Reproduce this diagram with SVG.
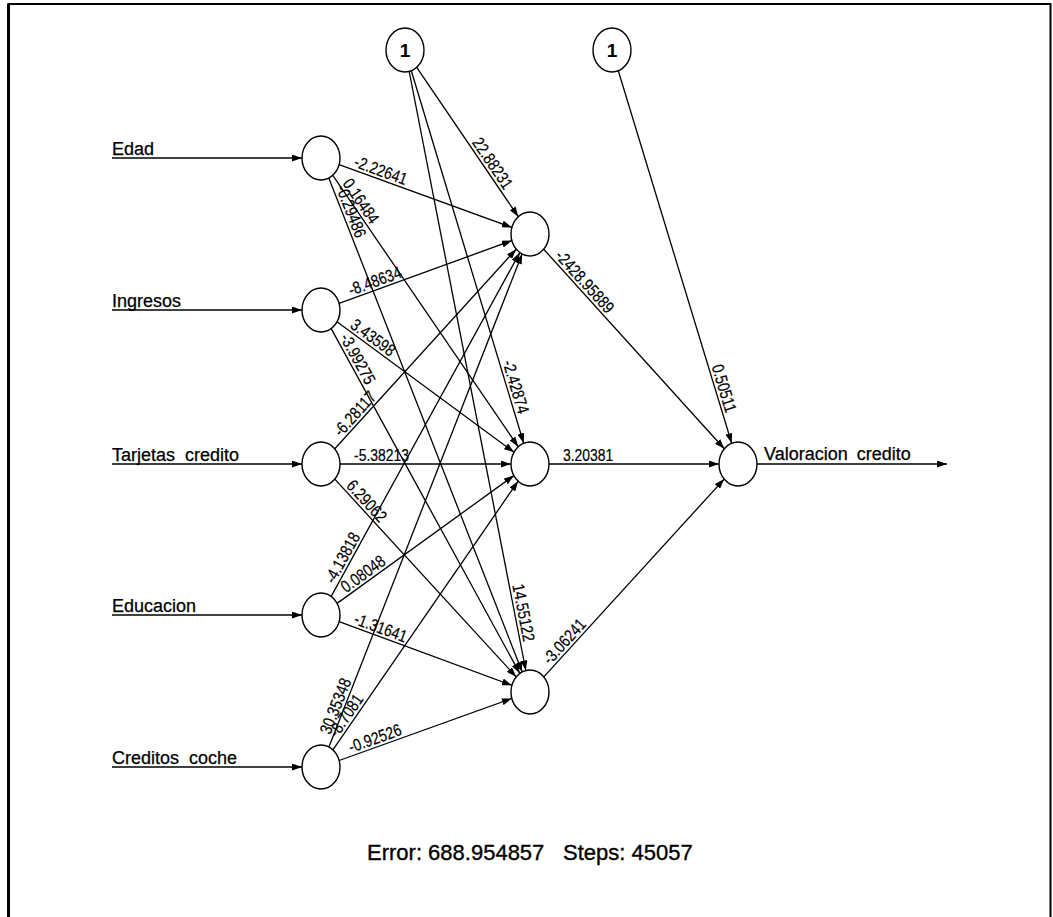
<svg xmlns="http://www.w3.org/2000/svg" width="1053" height="917" viewBox="0 0 1053 917">
  <style>
    text { font-family: "Liberation Sans", Arial, sans-serif; fill: #000; }
    .node { fill: #fff; stroke: #000; stroke-width: 1.4; }
    .edge { stroke: #000; stroke-width: 1.3; fill: none; marker-end: url(#arrow); }
    .name { font-size: 18px; stroke: #000; stroke-width: 0.25; }
    .one { font-size: 19px; text-anchor: middle; font-weight: bold; }
    .w { font-size: 17px; stroke: #000; stroke-width: 0.2; }
    .wb { font-size: 17px; text-anchor: end; stroke: #000; stroke-width: 0.2; }
    .info { font-size: 22px; stroke: #000; stroke-width: 0.35; }
  </style>
  <defs>
    <marker id="arrow" markerUnits="userSpaceOnUse" markerWidth="10" markerHeight="7" refX="10" refY="3.5" orient="auto">
      <path d="M0,0 L10,3.5 L0,7 z" fill="#000"/>
    </marker>
  </defs>

  <rect x="0" y="0" width="1053" height="917" fill="#fff"/>
  <!-- frame -->
  <rect x="8.5" y="4" width="1042" height="1000" fill="none" stroke="#000" stroke-width="2"/>
  <line x1="8.5" y1="4" x2="8.5" y2="917" stroke="#000" stroke-width="3"/>

  <!-- connectors -->
  <g id="connectors">
    <!-- input arrows -->
    <line class="edge" x1="112" y1="158" x2="302" y2="158"/>
    <line class="edge" x1="112" y1="310" x2="302" y2="310"/>
    <line class="edge" x1="112" y1="464" x2="302" y2="464"/>
    <line class="edge" x1="112" y1="615" x2="302" y2="615"/>
    <line class="edge" x1="112" y1="767" x2="302" y2="767"/>
    <!-- Edad -->
    <line class="edge" x1="339.1" y1="164.6" x2="511.9" y2="227.4"/>
    <line class="edge" x1="332.8" y1="175.3" x2="518.2" y2="446.7"/>
    <line class="edge" x1="328.8" y1="178.0" x2="522.2" y2="672.0"/>
    <!-- Ingresos -->
    <line class="edge" x1="339.1" y1="303.4" x2="511.9" y2="240.6"/>
    <line class="edge" x1="337.0" y1="321.8" x2="514.0" y2="452.2"/>
    <line class="edge" x1="331.2" y1="328.6" x2="519.8" y2="673.4"/>
    <!-- Tarjetas credito -->
    <line class="edge" x1="334.8" y1="448.8" x2="516.2" y2="249.2"/>
    <line class="edge" x1="340" y1="464" x2="511" y2="464"/>
    <line class="edge" x1="334.8" y1="479.1" x2="516.2" y2="676.9"/>
    <!-- Educacion -->
    <line class="edge" x1="331.2" y1="596.4" x2="519.8" y2="252.6"/>
    <line class="edge" x1="337.1" y1="603.4" x2="513.9" y2="475.6"/>
    <line class="edge" x1="339.1" y1="621.7" x2="511.9" y2="685.3"/>
    <!-- Creditos coche -->
    <line class="edge" x1="328.9" y1="747.0" x2="522.1" y2="254.0"/>
    <line class="edge" x1="332.9" y1="749.8" x2="518.1" y2="481.2"/>
    <line class="edge" x1="339.2" y1="760.5" x2="511.8" y2="698.5"/>
    <!-- hidden bias -->
    <line class="edge" x1="416.7" y1="67.3" x2="518.3" y2="216.7"/>
    <line class="edge" x1="411.3" y1="70.8" x2="523.7" y2="443.2"/>
    <line class="edge" x1="409.2" y1="71.5" x2="525.8" y2="670.5"/>
    <!-- hidden to output -->
    <line class="edge" x1="543.7" y1="249.2" x2="724.3" y2="448.8"/>
    <line class="edge" x1="549" y1="464" x2="719" y2="464"/>
    <line class="edge" x1="543.8" y1="676.9" x2="724.2" y2="479.1"/>
    <!-- output bias -->
    <line class="edge" x1="618.3" y1="70.8" x2="731.7" y2="443.3"/>
    <!-- output arrow -->
    <line class="edge" x1="757" y1="464" x2="947" y2="464"/>
  </g>

  <!-- weights -->
  <g id="weights">
    <text class="w" transform="translate(321 158) rotate(19.98) translate(33 -3) scale(.82 1)">-2.22641</text>
    <text class="w" transform="translate(321 158) rotate(55.67) translate(33 -3) scale(.82 1)">0.16484</text>
    <text class="w" transform="translate(321 158) rotate(68.63) translate(33 -3) scale(.82 1)">-0.29486</text>
    <text class="w" transform="translate(321 310) rotate(-19.98) translate(33 -3) scale(.82 1)">-8.48634</text>
    <text class="w" transform="translate(321 310) rotate(36.38) translate(33 -3) scale(.82 1)">3.43598</text>
    <text class="w" transform="translate(321 310) rotate(61.32) translate(33 -3) scale(.82 1)">-3.99275</text>
    <text class="w" transform="translate(321 464) rotate(-47.74) translate(33 -3) scale(.82 1)">-6.28117</text>
    <text class="w" transform="translate(321 464) translate(33 -3) scale(.82 1)">-5.38213</text>
    <text class="w" transform="translate(321 464) rotate(47.51) translate(33 -3) scale(.82 1)">6.29062</text>
    <text class="w" transform="translate(321 615) rotate(-61.25) translate(33 -3) scale(.82 1)">-4.13818</text>
    <text class="w" transform="translate(321 615) rotate(-35.85) translate(33 -3) scale(.82 1)">0.08048</text>
    <text class="w" transform="translate(321 615) rotate(20.22) translate(33 -3) scale(.82 1)">-1.31641</text>
    <text class="w" transform="translate(321 767) rotate(-68.59) translate(33 -3) scale(.82 1)">30.35348</text>
    <text class="w" transform="translate(321 767) rotate(-55.41) translate(33 -3) scale(.82 1)">-8.7081</text>
    <text class="w" transform="translate(321 767) rotate(-19.74) translate(33 -3) scale(.82 1)">-0.92526</text>
    <text class="wb" transform="translate(405 50) rotate(55.81) translate(172 -3) scale(.82 1)">22.88231</text>
    <text class="wb" transform="translate(405 50) rotate(73.2) translate(382 -3) scale(.82 1)">-2.42874</text>
    <text class="wb" transform="translate(405 50) rotate(78.98) translate(604 -3) scale(.82 1)">14.55122</text>
    <text class="w" transform="translate(530 234) rotate(47.88) translate(33 -3) scale(.82 1)">-2428.95889</text>
    <text class="w" transform="translate(530 464) translate(33 -3) scale(.82 1)">3.20381</text>
    <text class="w" transform="translate(530 692) rotate(-47.62) translate(33 -3) scale(.82 1)">-3.06241</text>
    <text class="wb" transform="translate(612 50) rotate(73.07) translate(381 -3) scale(.82 1)">0.50511</text>
  </g>

  <!-- input layer -->
  <g id="in-edad">
    <ellipse class="node" cx="321" cy="158" rx="19" ry="22"/>
    <text class="name" x="112" y="155">Edad</text>
  </g>
  <g id="in-ingresos">
    <ellipse class="node" cx="321" cy="310" rx="19" ry="22"/>
    <text class="name" x="112" y="307">Ingresos</text>
  </g>
  <g id="in-tarjetas">
    <ellipse class="node" cx="321" cy="464" rx="19" ry="22"/>
    <text class="name" x="112" y="461" word-spacing="5">Tarjetas credito</text>
  </g>
  <g id="in-educacion">
    <ellipse class="node" cx="321" cy="615" rx="19" ry="22"/>
    <text class="name" x="112" y="612">Educacion</text>
  </g>
  <g id="in-creditos">
    <ellipse class="node" cx="321" cy="767" rx="19" ry="22"/>
    <text class="name" x="112" y="764" word-spacing="5">Creditos coche</text>
  </g>

  <!-- bias nodes -->
  <g id="bias-hidden">
    <ellipse class="node" cx="405" cy="50" rx="19" ry="22"/>
    <text class="one" x="405" y="57">1</text>
  </g>
  <g id="bias-output">
    <ellipse class="node" cx="612" cy="50" rx="19" ry="22"/>
    <text class="one" x="612" y="57">1</text>
  </g>

  <!-- hidden layer -->
  <g id="hidden-1"><ellipse class="node" cx="530" cy="234" rx="19" ry="22"/></g>
  <g id="hidden-2"><ellipse class="node" cx="530" cy="464" rx="19" ry="22"/></g>
  <g id="hidden-3"><ellipse class="node" cx="530" cy="692" rx="19" ry="22"/></g>

  <!-- output -->
  <g id="out-valoracion">
    <ellipse class="node" cx="738" cy="464" rx="19" ry="22"/>
    <text class="name" x="764" y="460" word-spacing="4">Valoracion credito</text>
  </g>

  <!-- training summary -->
  <g id="summary">
    <text class="info" x="367" y="860">Error: 688.954857</text>
    <text class="info" x="563" y="860">Steps: 45057</text>
  </g>
</svg>
